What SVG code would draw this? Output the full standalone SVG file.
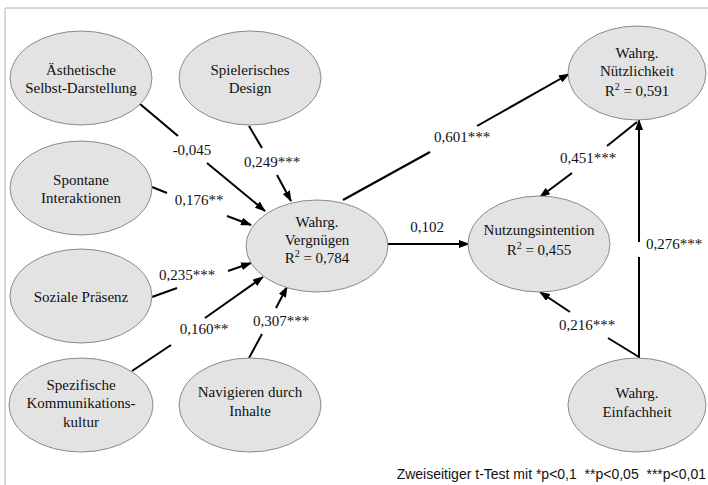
<svg xmlns="http://www.w3.org/2000/svg" width="708" height="485" viewBox="0 0 708 485">
<style>
.n ellipse{fill:#e3e3e3;stroke:#8a8a8a;stroke-width:1}
.t text{font-family:"Liberation Serif","DejaVu Serif",serif;font-size:15px;fill:#111;text-anchor:middle}
.c line{stroke:#000;stroke-width:2;fill:none}
.leg{font-family:"Liberation Sans","DejaVu Sans",sans-serif;font-size:14px;text-anchor:end;fill:#111;white-space:pre}
</style>
<defs>
<marker id="ah" markerWidth="11" markerHeight="8" refX="10" refY="4" orient="auto" markerUnits="userSpaceOnUse">
<path d="M0,0 L11,4 L0,8 Z" fill="#000"/>
</marker>
</defs>
<rect x="0" y="0" width="708" height="485" fill="#fff"/>
<path d="M5,485 V8 H708" fill="none" stroke="#b0b0b0" stroke-width="1"/>

<g class="c" id="connectors">
<line x1="140" y1="104" x2="178" y2="136"/>
<line x1="207" y1="163" x2="265" y2="211" marker-end="url(#ah)"/>
<line x1="249" y1="126" x2="262" y2="148"/>
<line x1="277" y1="175" x2="291" y2="201" marker-end="url(#ah)"/>
<line x1="152" y1="187" x2="167" y2="193"/>
<line x1="227" y1="216" x2="251" y2="225" marker-end="url(#ah)"/>
<line x1="152" y1="297" x2="177" y2="288"/>
<line x1="228" y1="271" x2="251" y2="263" marker-end="url(#ah)"/>
<line x1="132" y1="371" x2="171" y2="345"/>
<line x1="205" y1="318" x2="263" y2="277" marker-end="url(#ah)"/>
<line x1="249" y1="358" x2="262" y2="334"/>
<line x1="276" y1="308" x2="287" y2="287" marker-end="url(#ah)"/>
<line x1="343" y1="200" x2="430" y2="152"/>
<line x1="477" y1="126" x2="569" y2="74" marker-end="url(#ah)"/>
<line x1="388" y1="244" x2="469" y2="244" marker-end="url(#ah)"/>
<line x1="637" y1="122" x2="607" y2="146"/>
<line x1="572" y1="173" x2="540" y2="197" marker-end="url(#ah)"/>
<line x1="639" y1="358" x2="639" y2="257"/>
<line x1="639" y1="242" x2="639" y2="120" marker-end="url(#ah)"/>
<line x1="639" y1="357" x2="608" y2="338"/>
<line x1="570" y1="312" x2="540" y2="292" marker-end="url(#ah)"/>
</g>

<g class="t">
<g class="n" id="n_aesthetik"><ellipse cx="81" cy="78" rx="71" ry="47"/><text x="81" y="75">Ästhetische</text><text x="81" y="93">Selbst-Darstellung</text></g>
<g class="n" id="n_spiel"><ellipse cx="250" cy="78" rx="71" ry="47"/><text x="250" y="75">Spielerisches</text><text x="250" y="93">Design</text></g>
<g class="n" id="n_spontan"><ellipse cx="81" cy="188" rx="71" ry="47"/><text x="81" y="185">Spontane</text><text x="81" y="203">Interaktionen</text></g>
<g class="n" id="n_sozial"><ellipse cx="81" cy="296" rx="71" ry="47"/><text x="81" y="302">Soziale Präsenz</text></g>
<g class="n" id="n_spezif"><ellipse cx="81" cy="405" rx="72" ry="47"/><text x="81" y="390">Spezifische</text><text x="81" y="408">Kommunikations-</text><text x="81" y="427">kultur</text></g>
<g class="n" id="n_navig"><ellipse cx="250" cy="405" rx="71" ry="47"/><text x="250" y="397">Navigieren durch</text><text x="250" y="416">Inhalte</text></g>
<g class="n" id="n_vergn"><ellipse cx="317" cy="246" rx="71" ry="46"/><text x="317" y="227">Wahrg.</text><text x="317" y="245">Vergnügen</text><text x="317" y="263">R<tspan dy="-6" font-size="10">2</tspan><tspan dy="6"> = 0,784</tspan></text></g>
<g class="n" id="n_nutzint"><ellipse cx="539" cy="244" rx="71" ry="48"/><text x="539" y="235">Nutzungsintention</text><text x="539" y="255">R<tspan dy="-6" font-size="10">2</tspan><tspan dy="6"> = 0,455</tspan></text></g>
<g class="n" id="n_nuetz"><ellipse cx="637" cy="73" rx="69" ry="47"/><text x="637" y="58">Wahrg.</text><text x="637" y="76">Nützlichkeit</text><text x="637" y="96">R<tspan dy="-6" font-size="10">2</tspan><tspan dy="6"> = 0,591</tspan></text></g>
<g class="n" id="n_einf"><ellipse cx="637" cy="405" rx="69" ry="47"/><text x="637" y="398">Wahrg.</text><text x="637" y="417">Einfachheit</text></g>

<g id="labels">
<text x="192" y="155">-0,045</text>
<text x="272" y="167">0,249***</text>
<text x="199" y="205">0,176**</text>
<text x="187" y="280">0,235***</text>
<text x="204" y="334">0,160**</text>
<text x="281" y="326">0,307***</text>
<text x="462" y="142">0,601***</text>
<text x="588" y="163">0,451***</text>
<text x="427" y="232">0,102</text>
<text x="674" y="249">0,276***</text>
<text x="587" y="330">0,216***</text>
</g>
</g>
<text class="leg" x="706" y="479" xml:space="preserve">Zweiseitiger t-Test mit *p&lt;0,1  **p&lt;0,05  ***p&lt;0,01</text>
</svg>
